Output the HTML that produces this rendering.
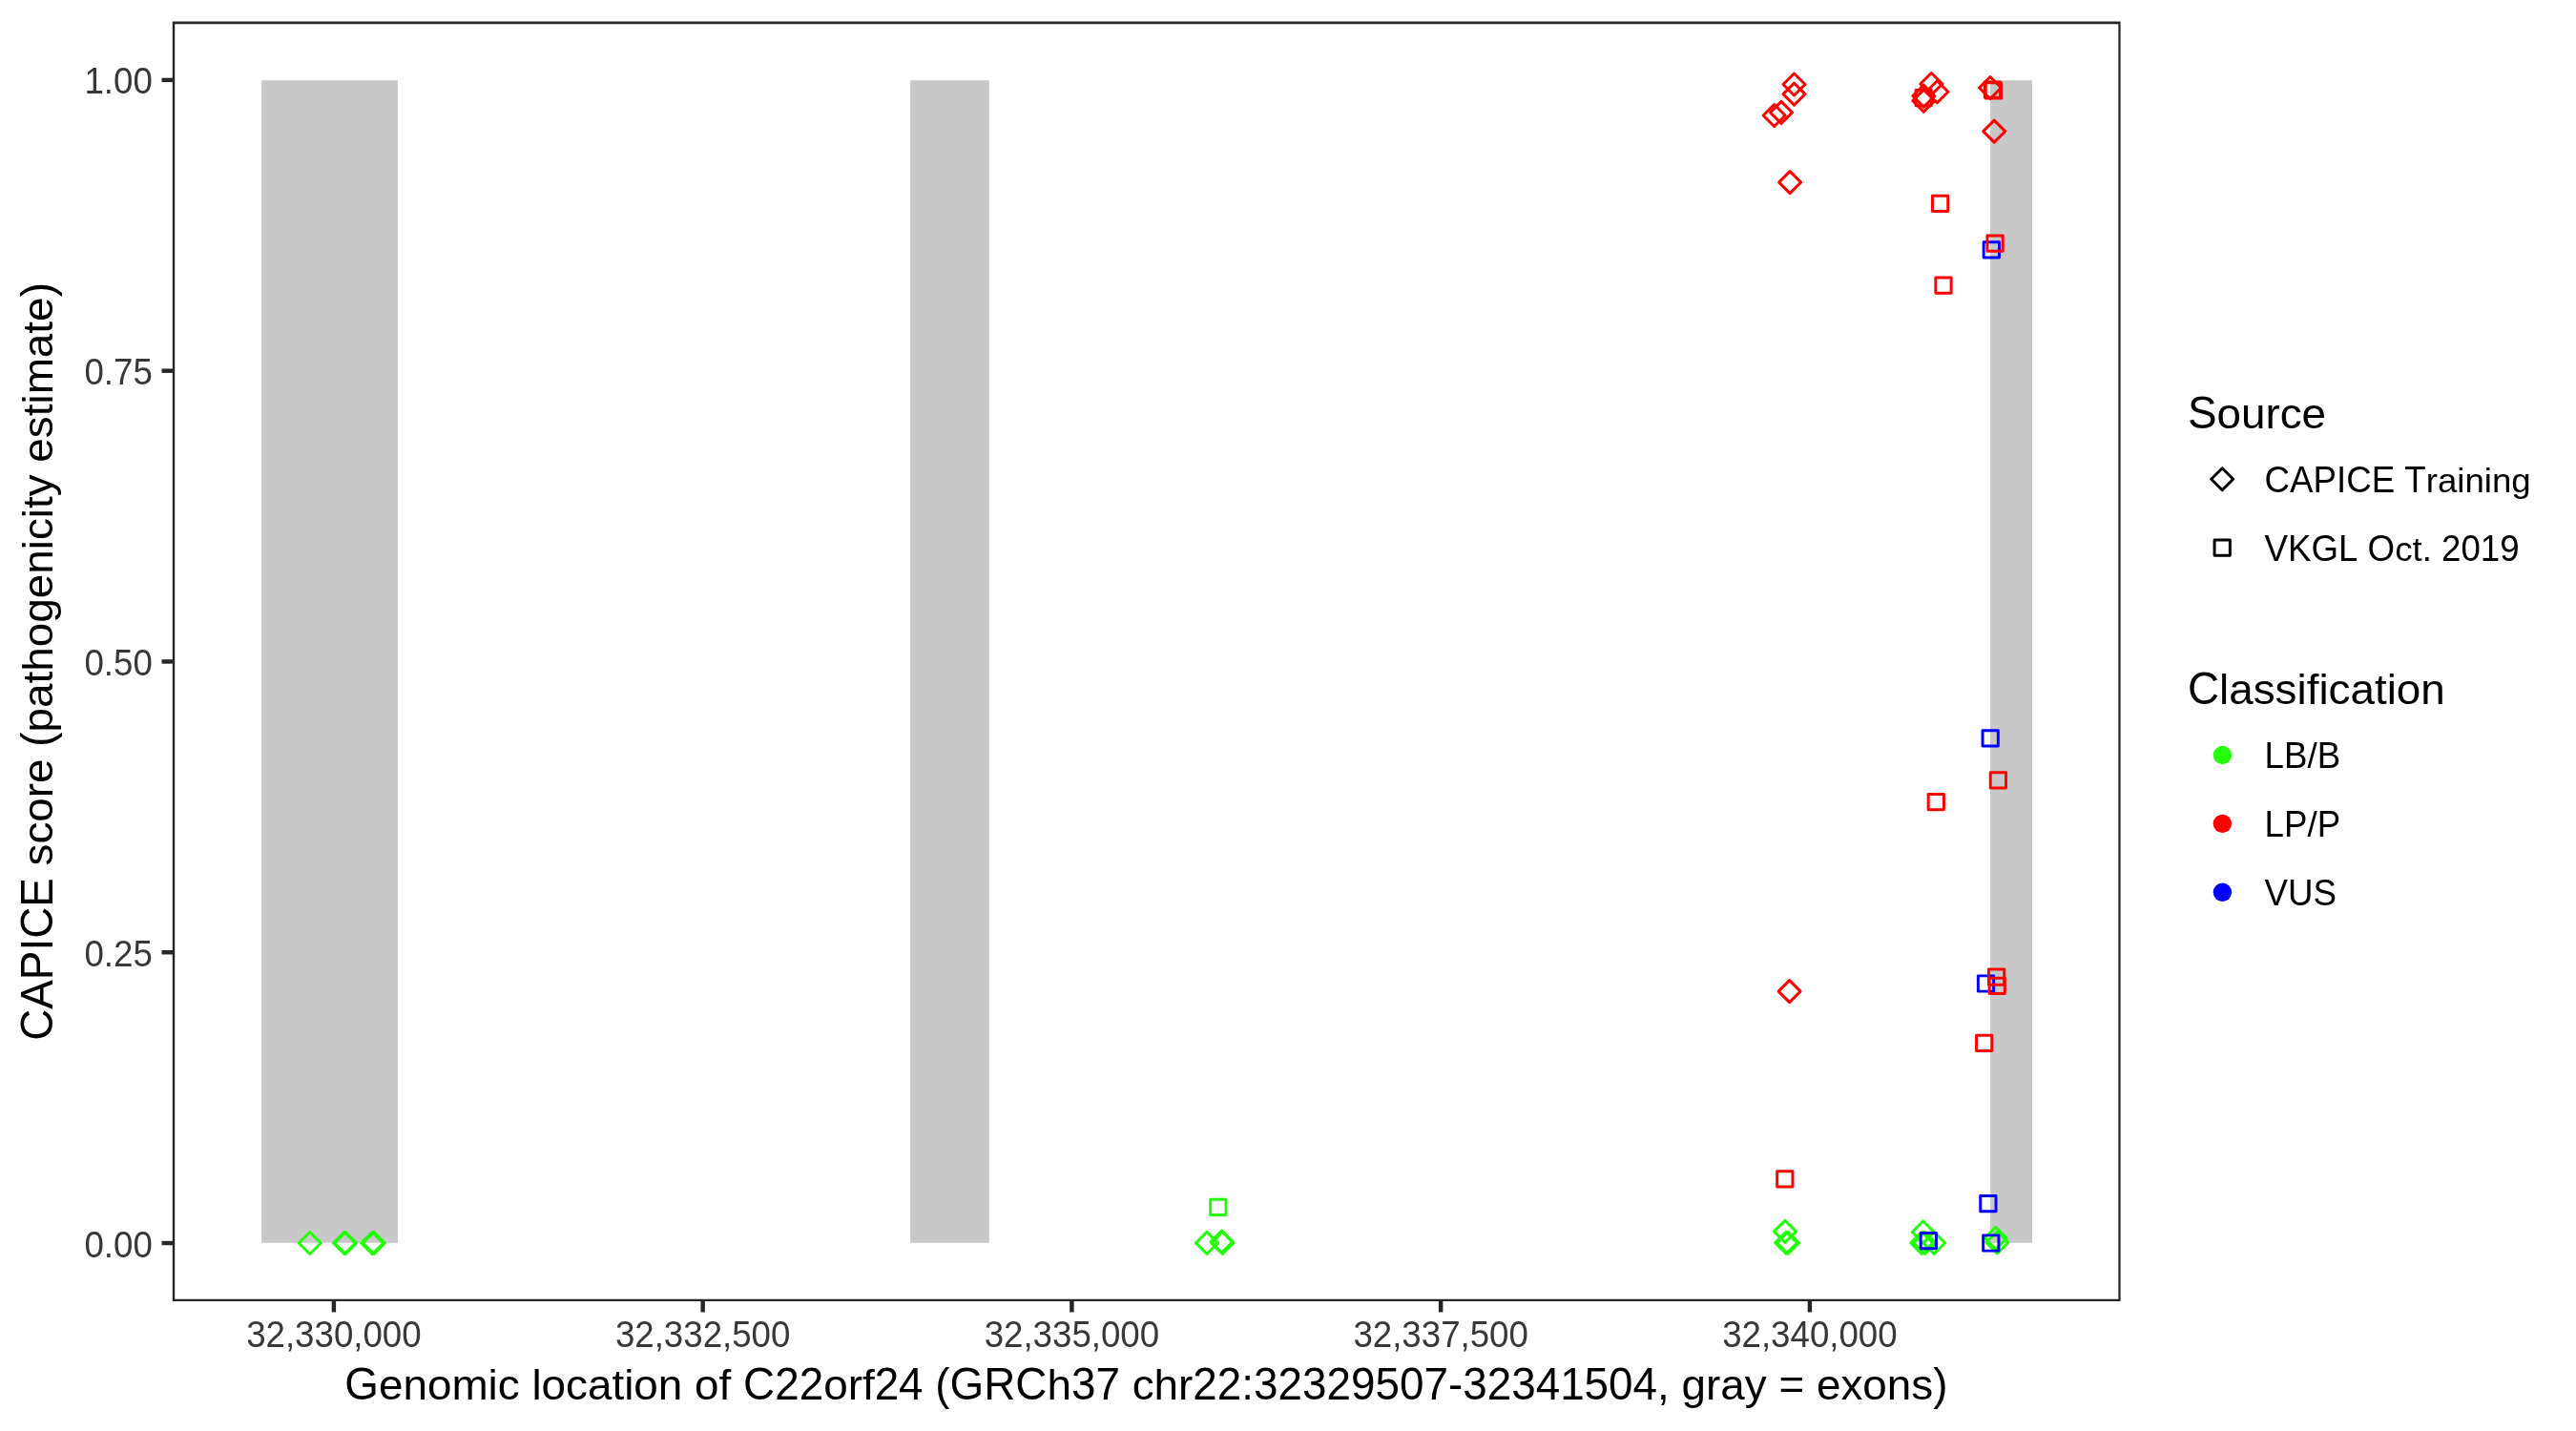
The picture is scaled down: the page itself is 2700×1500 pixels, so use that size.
<!DOCTYPE html>
<html><head><meta charset="utf-8"><title>CAPICE plot</title>
<style>
html,body{margin:0;padding:0;background:#fff;width:2700px;height:1500px;overflow:hidden}
svg{display:block;will-change:transform}
text{font-family:"Liberation Sans",sans-serif;font-kerning:none;white-space:pre}
.ax{font-size:36.67px;fill:#383838}
.ti{font-size:45.83px;fill:#000}
.lg{font-size:36.67px;fill:#000}
</style></head><body>
<svg width="2700" height="1500" viewBox="0 0 2700 1500">
<rect x="274.1" y="84.15" width="142.80" height="1218.65" fill="#C8C8C8"/>
<rect x="954.1" y="84.15" width="82.70" height="1218.65" fill="#C8C8C8"/>
<rect x="2086.1" y="84.15" width="43.90" height="1218.65" fill="#C8C8C8"/>
<g fill="none" stroke-width="2.95" stroke-linejoin="round">
<path d="M313.20 1303.00L324.70 1291.50L336.20 1303.00L324.70 1314.50Z" stroke="#22FF08"/>
<path d="M349.50 1303.00L361.00 1291.50L372.50 1303.00L361.00 1314.50Z" stroke="#22FF08"/>
<path d="M350.70 1303.00L362.20 1291.50L373.70 1303.00L362.20 1314.50Z" stroke="#22FF08"/>
<path d="M378.70 1303.00L390.20 1291.50L401.70 1303.00L390.20 1314.50Z" stroke="#22FF08"/>
<path d="M380.40 1303.00L391.90 1291.50L403.40 1303.00L391.90 1314.50Z" stroke="#22FF08"/>
<path d="M1253.50 1302.90L1265.00 1291.40L1276.50 1302.90L1265.00 1314.40Z" stroke="#22FF08"/>
<path d="M1269.00 1301.50L1280.50 1290.00L1292.00 1301.50L1280.50 1313.00Z" stroke="#22FF08"/>
<path d="M1269.80 1302.90L1281.30 1291.40L1292.80 1302.90L1281.30 1314.40Z" stroke="#22FF08"/>
<path d="M1859.50 1290.90L1871.00 1279.40L1882.50 1290.90L1871.00 1302.40Z" stroke="#22FF08"/>
<path d="M1860.60 1302.80L1872.10 1291.30L1883.60 1302.80L1872.10 1314.30Z" stroke="#22FF08"/>
<path d="M1862.60 1302.80L1874.10 1291.30L1885.60 1302.80L1874.10 1314.30Z" stroke="#22FF08"/>
<path d="M2004.20 1291.50L2015.70 1280.00L2027.20 1291.50L2015.70 1303.00Z" stroke="#22FF08"/>
<path d="M2002.80 1302.90L2014.30 1291.40L2025.80 1302.90L2014.30 1314.40Z" stroke="#22FF08"/>
<path d="M2005.90 1302.90L2017.40 1291.40L2028.90 1302.90L2017.40 1314.40Z" stroke="#22FF08"/>
<path d="M2015.70 1302.90L2027.20 1291.40L2038.70 1302.90L2027.20 1314.40Z" stroke="#22FF08"/>
<path d="M2080.30 1297.90L2091.80 1286.40L2103.30 1297.90L2091.80 1309.40Z" stroke="#22FF08"/>
<path d="M2081.90 1302.40L2093.40 1290.90L2104.90 1302.40L2093.40 1313.90Z" stroke="#22FF08"/>
<rect x="1268.66" y="1257.16" width="16.28" height="16.28" stroke="#22FF08"/>
<rect x="2079.16" y="253.76" width="16.28" height="16.28" stroke="#0000FF"/>
<rect x="2078.06" y="765.66" width="16.28" height="16.28" stroke="#0000FF"/>
<rect x="2073.36" y="1022.86" width="16.28" height="16.28" stroke="#0000FF"/>
<rect x="2075.76" y="1253.46" width="16.28" height="16.28" stroke="#0000FF"/>
<rect x="2013.16" y="1292.56" width="16.28" height="16.28" stroke="#0000FF"/>
<rect x="2078.66" y="1294.86" width="16.28" height="16.28" stroke="#0000FF"/>
<path d="M1869.00 88.50L1880.50 77.00L1892.00 88.50L1880.50 100.00Z" stroke="#FF0000"/>
<path d="M1869.00 98.60L1880.50 87.10L1892.00 98.60L1880.50 110.10Z" stroke="#FF0000"/>
<path d="M1848.10 121.00L1859.60 109.50L1871.10 121.00L1859.60 132.50Z" stroke="#FF0000"/>
<path d="M1855.50 117.90L1867.00 106.40L1878.50 117.90L1867.00 129.40Z" stroke="#FF0000"/>
<path d="M1864.60 191.10L1876.10 179.60L1887.60 191.10L1876.10 202.60Z" stroke="#FF0000"/>
<path d="M2012.85 88.03L2024.35 76.53L2035.85 88.03L2024.35 99.53Z" stroke="#FF0000"/>
<path d="M2018.90 96.20L2030.40 84.70L2041.90 96.20L2030.40 107.70Z" stroke="#FF0000"/>
<path d="M2004.80 100.60L2016.30 89.10L2027.80 100.60L2016.30 112.10Z" stroke="#FF0000"/>
<path d="M2004.80 105.60L2016.30 94.10L2027.80 105.60L2016.30 117.10Z" stroke="#FF0000"/>
<path d="M2074.50 92.00L2086.00 80.50L2097.50 92.00L2086.00 103.50Z" stroke="#FF0000"/>
<path d="M2078.70 137.60L2090.20 126.10L2101.70 137.60L2090.20 149.10Z" stroke="#FF0000"/>
<path d="M1864.10 1039.10L1875.60 1027.60L1887.10 1039.10L1875.60 1050.60Z" stroke="#FF0000"/>
<rect x="2008.06" y="94.56" width="16.28" height="16.28" stroke="#FF0000"/>
<rect x="2080.26" y="85.86" width="16.28" height="16.28" stroke="#FF0000"/>
<rect x="2081.26" y="86.86" width="16.28" height="16.28" stroke="#FF0000"/>
<rect x="2025.46" y="205.26" width="16.28" height="16.28" stroke="#FF0000"/>
<rect x="2082.96" y="247.06" width="16.28" height="16.28" stroke="#FF0000"/>
<rect x="2028.86" y="291.06" width="16.28" height="16.28" stroke="#FF0000"/>
<rect x="2086.26" y="809.76" width="16.28" height="16.28" stroke="#FF0000"/>
<rect x="2021.16" y="832.46" width="16.28" height="16.28" stroke="#FF0000"/>
<rect x="2071.56" y="1085.26" width="16.28" height="16.28" stroke="#FF0000"/>
<rect x="1862.66" y="1227.66" width="16.28" height="16.28" stroke="#FF0000"/>
<rect x="2084.46" y="1015.96" width="16.28" height="16.28" stroke="#FF0000"/>
<rect x="2085.06" y="1025.16" width="16.28" height="16.28" stroke="#FF0000"/>
</g>
<path d="M180.8 22.5H2222.6V1364.0H180.8Z M183.22 25.14V1361.78H2220.38V25.14Z" fill="#262626" fill-rule="evenodd"/>
<line x1="169.54" y1="1303.04" x2="181.00" y2="1303.04" stroke="#262626" stroke-width="4.44"/>
<text transform="matrix(1 0 0 1.04 88.430 1317.64)" class="ax">0</text>
<text transform="matrix(1 0 0 1.0 108.824 1317.64)" class="ax">.</text>
<text transform="matrix(1 0 0 1.04 119.012 1317.64)" class="ax">00</text>
<line x1="169.54" y1="998.25" x2="181.00" y2="998.25" stroke="#262626" stroke-width="4.44"/>
<text transform="matrix(1 0 0 1.04 88.430 1012.85)" class="ax">0</text>
<text transform="matrix(1 0 0 1.0 108.824 1012.85)" class="ax">.</text>
<text transform="matrix(1 0 0 1.04 119.012 1012.85)" class="ax">25</text>
<line x1="169.54" y1="693.46" x2="181.00" y2="693.46" stroke="#262626" stroke-width="4.44"/>
<text transform="matrix(1 0 0 1.04 88.430 708.06)" class="ax">0</text>
<text transform="matrix(1 0 0 1.0 108.824 708.06)" class="ax">.</text>
<text transform="matrix(1 0 0 1.04 119.012 708.06)" class="ax">50</text>
<line x1="169.54" y1="388.67" x2="181.00" y2="388.67" stroke="#262626" stroke-width="4.44"/>
<text transform="matrix(1 0 0 1.04 88.430 403.27)" class="ax">0</text>
<text transform="matrix(1 0 0 1.0 108.824 403.27)" class="ax">.</text>
<text transform="matrix(1 0 0 1.04 119.012 403.27)" class="ax">75</text>
<line x1="169.54" y1="83.88" x2="181.00" y2="83.88" stroke="#262626" stroke-width="4.44"/>
<text transform="matrix(1 0 0 1.04 88.430 98.48)" class="ax">1</text>
<text transform="matrix(1 0 0 1.0 108.824 98.48)" class="ax">.</text>
<text transform="matrix(1 0 0 1.04 119.012 98.48)" class="ax">00</text>
<line x1="349.90" y1="1364.00" x2="349.90" y2="1375.46" stroke="#262626" stroke-width="4.44"/>
<text transform="matrix(1 0 0 1.04 258.135 1412.20)" class="ax">32</text>
<text transform="matrix(1 0 0 1.0 298.924 1412.20)" class="ax">,</text>
<text transform="matrix(1 0 0 1.04 309.112 1412.20)" class="ax">330</text>
<text transform="matrix(1 0 0 1.0 370.294 1412.20)" class="ax">,</text>
<text transform="matrix(1 0 0 1.04 380.482 1412.20)" class="ax">000</text>
<line x1="736.65" y1="1364.00" x2="736.65" y2="1375.46" stroke="#262626" stroke-width="4.44"/>
<text transform="matrix(1 0 0 1.04 644.885 1412.20)" class="ax">32</text>
<text transform="matrix(1 0 0 1.0 685.674 1412.20)" class="ax">,</text>
<text transform="matrix(1 0 0 1.04 695.862 1412.20)" class="ax">332</text>
<text transform="matrix(1 0 0 1.0 757.044 1412.20)" class="ax">,</text>
<text transform="matrix(1 0 0 1.04 767.232 1412.20)" class="ax">500</text>
<line x1="1123.40" y1="1364.00" x2="1123.40" y2="1375.46" stroke="#262626" stroke-width="4.44"/>
<text transform="matrix(1 0 0 1.04 1031.635 1412.20)" class="ax">32</text>
<text transform="matrix(1 0 0 1.0 1072.424 1412.20)" class="ax">,</text>
<text transform="matrix(1 0 0 1.04 1082.612 1412.20)" class="ax">335</text>
<text transform="matrix(1 0 0 1.0 1143.794 1412.20)" class="ax">,</text>
<text transform="matrix(1 0 0 1.04 1153.982 1412.20)" class="ax">000</text>
<line x1="1510.15" y1="1364.00" x2="1510.15" y2="1375.46" stroke="#262626" stroke-width="4.44"/>
<text transform="matrix(1 0 0 1.04 1418.385 1412.20)" class="ax">32</text>
<text transform="matrix(1 0 0 1.0 1459.174 1412.20)" class="ax">,</text>
<text transform="matrix(1 0 0 1.04 1469.362 1412.20)" class="ax">337</text>
<text transform="matrix(1 0 0 1.0 1530.544 1412.20)" class="ax">,</text>
<text transform="matrix(1 0 0 1.04 1540.732 1412.20)" class="ax">500</text>
<line x1="1896.90" y1="1364.00" x2="1896.90" y2="1375.46" stroke="#262626" stroke-width="4.44"/>
<text transform="matrix(1 0 0 1.04 1805.135 1412.20)" class="ax">32</text>
<text transform="matrix(1 0 0 1.0 1845.924 1412.20)" class="ax">,</text>
<text transform="matrix(1 0 0 1.04 1856.112 1412.20)" class="ax">340</text>
<text transform="matrix(1 0 0 1.0 1917.294 1412.20)" class="ax">,</text>
<text transform="matrix(1 0 0 1.04 1927.482 1412.20)" class="ax">000</text>
<text transform="matrix(1 0 0 1.04 361.299 1467.10)" class="ti">G</text>
<text transform="matrix(1 0 0 0.975 396.947 1467.10)" class="ti">enomic location of </text>
<text transform="matrix(1 0 0 1.04 779.073 1467.10)" class="ti">C22</text>
<text transform="matrix(1 0 0 0.975 863.146 1467.10)" class="ti">orf</text>
<text transform="matrix(1 0 0 1.04 916.630 1467.10)" class="ti">24 </text>
<text transform="matrix(1 0 0 1.0 980.340 1467.10)" class="ti">(</text>
<text transform="matrix(1 0 0 1.04 995.601 1467.10)" class="ti">GRC</text>
<text transform="matrix(1 0 0 0.975 1097.443 1467.10)" class="ti">h</text>
<text transform="matrix(1 0 0 1.04 1122.932 1467.10)" class="ti">37 </text>
<text transform="matrix(1 0 0 0.975 1186.642 1467.10)" class="ti">chr</text>
<text transform="matrix(1 0 0 1.04 1250.307 1467.10)" class="ti">22</text>
<text transform="matrix(1 0 0 1.0 1301.284 1467.10)" class="ti">:</text>
<text transform="matrix(1 0 0 1.04 1314.017 1467.10)" class="ti">32329507</text>
<text transform="matrix(1 0 0 1.0 1517.925 1467.10)" class="ti">-</text>
<text transform="matrix(1 0 0 1.04 1533.186 1467.10)" class="ti">32341504</text>
<text transform="matrix(1 0 0 1.0 1737.094 1467.10)" class="ti">, </text>
<text transform="matrix(1 0 0 0.975 1762.560 1467.10)" class="ti">gray </text>
<text transform="matrix(1 0 0 1.0 1864.447 1467.10)" class="ti">= </text>
<text transform="matrix(1 0 0 0.975 1903.944 1467.10)" class="ti">exons</text>
<text transform="matrix(1 0 0 1.0 2026.239 1467.10)" class="ti">)</text>
<text transform="translate(54.80 693.46) rotate(-90) translate(-397.354 0) scale(1 1.04)" class="ti">CAPICE </text>
<text transform="translate(54.80 693.46) rotate(-90) translate(-213.989 0) scale(1 0.975)" class="ti">score </text>
<text transform="translate(54.80 693.46) rotate(-90) translate(-89.187 0) scale(1 1.0)" class="ti">(</text>
<text transform="translate(54.80 693.46) rotate(-90) translate(-73.925 0) scale(1 0.975)" class="ti">pathogenicity estimate</text>
<text transform="translate(54.80 693.46) rotate(-90) translate(382.092 0) scale(1 1.0)" class="ti">)</text>
<text transform="matrix(1 0 0 1.04 2292.900 448.90)" class="ti">S</text>
<text transform="matrix(1 0 0 0.975 2323.468 448.90)" class="ti">ource</text>
<g fill="none" stroke="#000" stroke-width="2.95" stroke-linejoin="round">
<path d="M2317.70 502.20L2329.20 490.70L2340.70 502.20L2329.20 513.70Z" stroke="#000000"/>
<rect x="2321.06" y="565.96" width="16.28" height="16.28" stroke="#000000"/>
</g>
<text transform="matrix(1 0 0 1.04 2373.600 516.00)" class="lg">CAPICE T</text>
<text transform="matrix(1 0 0 0.975 2542.715 516.00)" class="lg">raining</text>
<text transform="matrix(1 0 0 1.04 2373.600 587.90)" class="lg">VKGL O</text>
<text transform="matrix(1 0 0 0.975 2510.146 587.90)" class="lg">ct</text>
<text transform="matrix(1 0 0 1.0 2538.669 587.90)" class="lg">. </text>
<text transform="matrix(1 0 0 1.04 2559.045 587.90)" class="lg">2019</text>
<text transform="matrix(1 0 0 1.04 2292.900 737.80)" class="ti">C</text>
<text transform="matrix(1 0 0 0.975 2325.997 737.80)" class="ti">lassification</text>
<circle cx="2329.4" cy="791.50" r="9.7" fill="#22FF08"/>
<text transform="matrix(1 0 0 1.04 2373.600 805.10)" class="lg">LB</text>
<text transform="matrix(1 0 0 1.0 2418.453 805.10)" class="lg">/</text>
<text transform="matrix(1 0 0 1.04 2428.641 805.10)" class="lg">B</text>
<circle cx="2329.4" cy="863.40" r="9.7" fill="#FF0000"/>
<text transform="matrix(1 0 0 1.04 2373.600 877.00)" class="lg">LP</text>
<text transform="matrix(1 0 0 1.0 2418.453 877.00)" class="lg">/</text>
<text transform="matrix(1 0 0 1.04 2428.641 877.00)" class="lg">P</text>
<circle cx="2329.4" cy="935.30" r="9.7" fill="#0000FF"/>
<text transform="matrix(1 0 0 1.04 2373.600 948.90)" class="lg">VUS</text>
</svg>
</body></html>
